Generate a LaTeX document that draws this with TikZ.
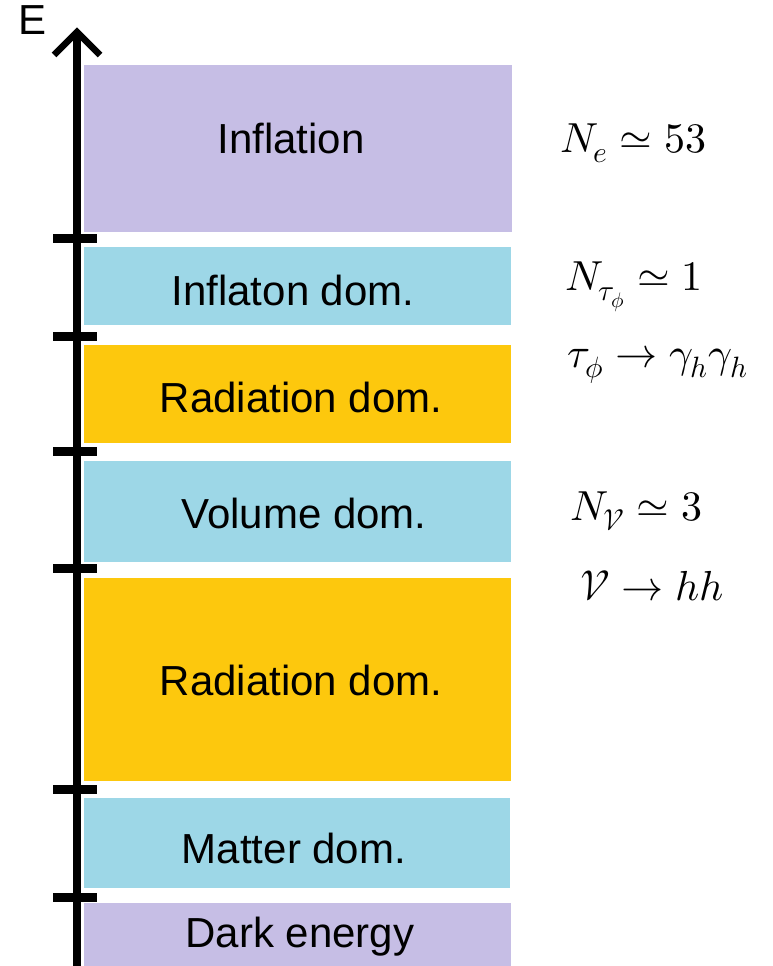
\documentclass[tikz,border=0pt]{standalone}
\usepackage{fontspec}
\usepackage{unicode-math}
\setmainfont{Liberation Sans}
\setmathfont{Latin Modern Math}
\definecolor{epurple}{HTML}{C6BEE5}
\definecolor{eblue}{HTML}{9DD7E7}
\definecolor{eorange}{HTML}{FDC80D}
\tikzset{
  eralabel/.style={anchor=base, inner sep=0pt, font=\fontsize{42}{48}\selectfont},
  mathlabel/.style={anchor=base west, inner sep=0pt, font=\fontsize{42}{48}\selectfont},
  tick/.style={line width=9pt},
}
\begin{document}
\begin{tikzpicture}[x=1pt,y=-1pt]
\useasboundingbox (0,0) rectangle (773,966);
% era boxes
\fill[epurple] (84,65) rectangle (512,232);
\fill[eblue] (84,247) rectangle (511,325);
\fill[eorange] (84,345) rectangle (511,443);
\fill[eblue] (84,461) rectangle (511,562);
\fill[eorange] (84,578) rectangle (511,781);
\fill[eblue] (84,798) rectangle (510,888);
\fill[epurple] (84,903) rectangle (511,966);
% labels
\node[eralabel] (inf) at (291,153) {Inflation};
\node[eralabel] (idom) at (293,305) {Inflaton dom.};
\node[eralabel] (rdom1) at (301,412) {Radiation dom.};
\node[eralabel] (vdom) at (304,528) {Volume dom.};
\node[eralabel] (rdom2) at (301,695) {Radiation dom.};
\node[eralabel] (mdom) at (294,863) {Matter dom.};
\node[eralabel] (de) at (300,947) {Dark energy};
\node[eralabel] (E) at (33,35) {E};
% axis
\coordinate (bot) at (77,966);
\coordinate (top) at (77,33);
\draw[line width=8pt] (bot) -- (top);
\draw[line width=6.5pt, line join=miter] (54,55) -- (77,32) -- (100,55);
\foreach \y in {238,336,451,568,789,897}
  \draw[tick] (53,\y) -- (97,\y);
% math annotations
\node[mathlabel] (m1) at (560,152) {$N_e \simeq 53$};
\node[mathlabel] (m2) at (565,290) {$N_{\tau_\phi} \simeq 1$};
\node[mathlabel] (m3) at (567,367) {$\tau_\phi \rightarrow \gamma_h\gamma_h$};
\node[mathlabel] (m4) at (570,520) {$N_{\mathcal{V}} \simeq 3$};
\node[mathlabel] (m5) at (580,600) {$\mathcal{V} \rightarrow hh$};
\end{tikzpicture}
\end{document}
